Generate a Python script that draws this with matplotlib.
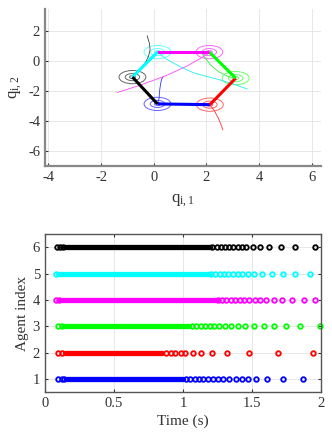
import numpy as np
import matplotlib
matplotlib.use("Agg")
import matplotlib.pyplot as plt
from matplotlib.patches import Ellipse

plt.rcParams['font.family'] = ['Liberation Serif', 'DejaVu Serif']
plt.rcParams['mathtext.fontset'] = 'custom'
plt.rcParams['mathtext.rm'] = 'Liberation Serif'
plt.rcParams['mathtext.it'] = 'Liberation Serif'
plt.rcParams['axes.unicode_minus'] = False

# ---------------- data ----------------
agent_colors = ['#0000ff', '#ff0000', '#00ff00', '#ff00ff', '#00ffff', '#000000']
thin_colors = ['#3333ff', '#ff3333', '#33ee33', '#ff44ff', '#22eeee', '#444444']

# final positions of agents 1..6 (hexagon)
final_x = [0.14, 2.13, 3.11, 2.11, 0.14, -0.81]
final_y = [-2.85, -2.90, -1.14, 0.59, 0.59, -1.07]

# trajectories
traj_x = [
    [0.36, 0.30, 0.26, 0.22, 0.20, 0.14],
    [2.62, 2.55, 2.45, 2.30, 2.13],
    [1.85, 1.95, 2.15, 2.45, 2.85, 3.11],
    [-1.38, -0.50, 0.50, 1.30, 1.80, 2.08],
    [3.55, 3.00, 2.50, 2.00, 1.50, 1.00, 0.45, 0.14],
    [-0.25, -0.17, -0.14, -0.20, -0.32, -0.52, -0.81],
]
traj_y = [
    [-1.05, -1.20, -1.50, -2.00, -2.50, -2.85],
    [-4.56, -4.20, -3.80, -3.30, -2.90],
    [0.45, 0.20, -0.25, -0.70, -1.05, -1.14],
    [-2.09, -1.60, -0.95, -0.30, 0.20, 0.50],
    [-1.86, -1.52, -1.25, -1.02, -0.78, -0.38, 0.15, 0.59],
    [1.67, 1.20, 0.74, 0.30, -0.10, -0.55, -1.07],
]

# event-triggered times
first_events = [
    [0.097, 0.121, 0.138],
    [0.097, 0.121],
    [0.097, 0.121],
    [0.080, 0.099],
    [0.078],
    [0.089, 0.109, 0.128],
]
dense_start = [0.158, 0.145, 0.138, 0.115, 0.097, 0.145]
dense_end = [1.003, 0.846, 1.040, 1.246, 1.188, 1.197]
late_events = [
    [1.023, 1.054, 1.086, 1.117, 1.148, 1.180, 1.214, 1.250, 1.289, 1.332,
     1.381, 1.427, 1.470, 1.531, 1.610, 1.721, 1.869],
    [0.875, 0.912, 0.945, 0.982, 1.018, 1.069, 1.129, 1.207, 1.320, 1.478,
     1.688, 1.942],
    [1.064, 1.095, 1.127, 1.158, 1.192, 1.226, 1.262, 1.304, 1.347, 1.395,
     1.451, 1.511, 1.584, 1.661, 1.748, 1.850, 1.990],
    [1.253, 1.284, 1.315, 1.347, 1.378, 1.410, 1.444, 1.480, 1.519, 1.560,
     1.603, 1.656, 1.714, 1.792, 1.874, 1.959],
    [1.202, 1.233, 1.265, 1.296, 1.328, 1.361, 1.395, 1.429, 1.468, 1.516,
     1.574, 1.642, 1.724, 1.811, 1.922],
    [1.211, 1.243, 1.272, 1.301, 1.332, 1.364, 1.395, 1.424, 1.456, 1.504,
     1.557, 1.625, 1.712, 1.809, 1.959],
]

fig = plt.figure(figsize=(3.32, 4.41), dpi=100)

# ---------------- top: trajectories ----------------
ax1 = fig.add_axes([0.1355, 0.6243, 0.8315, 0.3553])
ax1.set_xlim(-4.13, 6.35)
ax1.set_ylim(-6.95, 3.45)
ax1.grid(True, color='#e3e3e3', lw=0.6)
ax1.set_axisbelow(True)

for i in range(6):
    ax1.plot(traj_x[i], traj_y[i], color=thin_colors[i], lw=0.6)
    for w, h in [(1.02, 0.88), (0.55, 0.47), (0.22, 0.2)]:
        ax1.add_patch(Ellipse((final_x[i], final_y[i]), w, h, fill=False,
                              ec=agent_colors[i], lw=0.7, alpha=0.6))
for i in range(6):
    j = (i + 1) % 6
    ax1.plot([final_x[i], final_x[j]], [final_y[i], final_y[j]],
             color=agent_colors[i], lw=2.2, solid_capstyle='butt')

ax1.set_xticks([-4, -2, 0, 2, 4, 6])
ax1.set_yticks([-6, -4, -2, 0, 2])
for s in ['top', 'right']:
    ax1.spines[s].set_visible(False)
for s in ['left', 'bottom']:
    ax1.spines[s].set_color('#888888')
    ax1.spines[s].set_linewidth(1.6)
ax1.tick_params(direction='in', length=2, labelsize=10.5, colors='#333333')
ax1.set_xlabel(r'$\mathregular{q_{i,1}}$', fontsize=12, labelpad=6,
               color='#333333')
ax1.set_ylabel(r'$\mathregular{q_{i,2}}$', fontsize=12, labelpad=3,
               color='#333333')

# ---------------- bottom: event times ----------------
ax2 = fig.add_axes([0.1355, 0.1104, 0.8315, 0.3583])
ax2.set_xlim(0, 2)
ax2.set_ylim(0.5, 6.5)
ax2.grid(True, color='#e3e3e3', lw=0.6)
ax2.set_axisbelow(True)

for i in range(6):
    k = i + 1
    ax2.plot([dense_start[i], dense_end[i]], [k, k], color=agent_colors[i],
             lw=3.8, solid_capstyle='round')
    ts = first_events[i] + late_events[i]
    ax2.plot(ts, [k] * len(ts), 'o', ms=3.3, mfc='none',
             mec=agent_colors[i], mew=1.3, clip_on=False)

ax2.set_xticks([0, 0.5, 1, 1.5, 2])
ax2.set_xticklabels(['0', '0.5', '1', '1.5', '2'])
ax2.set_yticks([1, 2, 3, 4, 5, 6])
for s in ax2.spines.values():
    s.set_color('#555555')
    s.set_linewidth(1.0)
ax2.tick_params(direction='in', length=2, labelsize=10.5, colors='#333333',
                top=True, right=True)
ax2.set_xlabel('Time (s)', fontsize=11, labelpad=3, color='#333333')
ax2.set_ylabel('Agent index', fontsize=11, labelpad=3, color='#333333')

fig.savefig('out.png', dpi=100)
